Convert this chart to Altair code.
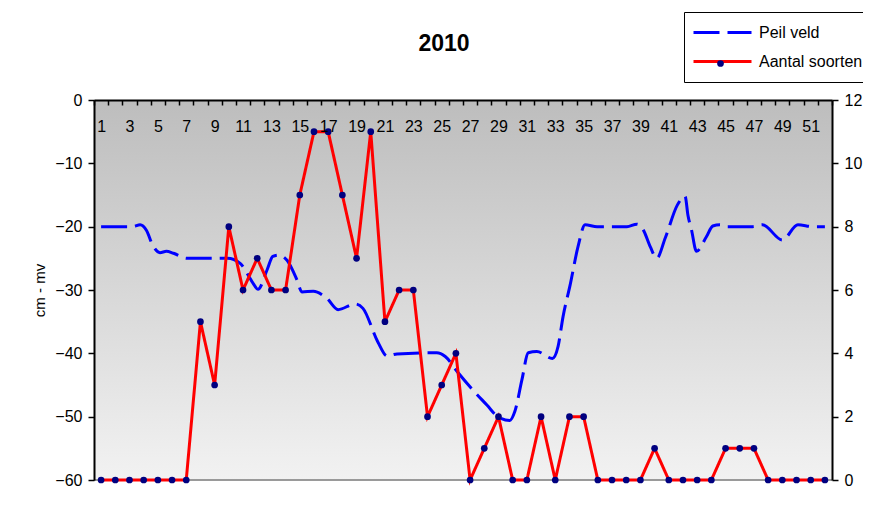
import altair as alt
import pandas as pd

FONT = "Liberation Sans"

# ---- data ----
weeks = list(range(1, 53))
aantal_soorten = [0, 0, 0, 0, 0, 0, 0, 5, 3, 8, 6, 7, 6, 6, 9, 11, 11, 9, 7, 11,
                  5, 6, 6, 2, 3, 4, 0, 1, 2, 0, 0, 2, 0, 2, 2, 0, 0, 0, 0, 1,
                  0, 0, 0, 0, 1, 1, 1, 0, 0, 0, 0, 0]

peil_x = [1.0, 3.25, 3.75, 4.2, 4.65, 5.15, 5.6, 6.1, 7.05, 9.9, 10.8, 11.7, 12.05,
          12.7, 13.1, 13.5, 14.1, 14.8, 15.15, 15.95, 16.9, 17.7, 18.9, 19.45,
          20.5, 21.15, 21.85, 24.65, 25.25, 26.1, 27.2, 28.2, 28.9, 29.8, 30.15,
          30.65, 31.1, 31.7, 32.8, 33.2, 33.55, 34.05, 34.6, 35.1, 35.95, 38.05,
          38.75, 39.2, 39.7, 40.15, 40.75, 41.6, 42.15, 42.35, 42.6, 42.95, 43.65,
          44.1, 44.6, 45.05, 46.9, 47.6, 49.0, 50.1, 51.15, 52.0]
peil_cm = [-20, -20, -19.7, -20.6, -23.0, -24.1, -23.9, -24.2, -25, -25, -25.8,
           -28.9, -29.9, -26.8, -24.7, -24.5, -25.3, -28.4, -30.3, -30.2, -31.3,
           -33.1, -32.2, -32.9, -38.2, -40.4, -40.1, -39.9, -40.5, -42.9, -45.8,
           -48.2, -49.9, -50.6, -49.2, -44.2, -39.9, -39.7, -40.8, -38.9, -34.2,
           -29.2, -23.2, -19.7, -20.0, -20.0, -19.6, -20.5, -23.2, -25.0, -21.8,
           -16.6, -15.2, -18.2, -20.5, -23.9, -21.6, -19.9, -19.7, -20.0, -20.0,
           -19.7, -22.1, -19.7, -20.0, -20.0]

series_names = ["Peil veld", "Aantal soorten"]
series_colors = ["#0000ff", "#ff0000"]
series_dashes = [[26, 8], [1, 0]]

left_ticks = [-60, -50, -40, -30, -20, -10, 0]
right_ticks = [0, 2, 4, 6, 8, 10, 12]
x_label_vals = list(range(1, 52, 2))
x_tick_vals = [i + 0.5 for i in range(0, 53)]

df_peil = pd.DataFrame({"x": peil_x, "cm": peil_cm, "series": series_names[0]})
df_soort = pd.DataFrame({"x": weeks, "n": aantal_soorten,
                         "series": series_names[1], "dot": series_names[1]})

# ---- scales & axes ----
xscale = alt.Scale(domain=[0.5, 52.5], nice=False, zero=False)
yl_scale = alt.Scale(domain=[-60, 0], nice=False, zero=False)
yr_scale = alt.Scale(domain=[0, 12], nice=False, zero=False)
color_scale = alt.Scale(domain=series_names, range=series_colors)
dash_scale = alt.Scale(domain=series_names, range=series_dashes)

x_axis = alt.Axis(
    orient="bottom", offset=-380, title=None, zindex=1,
    values=sorted(x_tick_vals + x_label_vals),
    labelExpr="datum.value % 1 == 0 ? toString(datum.value) : ''",
    tickOpacity=alt.condition("datum.value % 1 != 0", alt.value(1), alt.value(0)),
    tickSize=5, tickColor="black", tickWidth=1.5,
    domainColor="black", domainWidth=2,
    labelFont=FONT, labelFontSize=16, labelColor="black",
    labelPadding=13, labelOverlap=False, labelFlush=False, labelAngle=0,
    labelBound=False, grid=False,
)
yl_axis = alt.Axis(
    orient="left", values=left_ticks, title="cm - mv", zindex=1,
    titleFont=FONT, titleFontSize=15, titleFontWeight="normal", titleColor="black",
    titlePadding=7,
    tickSize=6, tickColor="black", tickWidth=1.5,
    domainColor="black", domainWidth=2,
    labelFont=FONT, labelFontSize=16, labelColor="black", labelPadding=6,
    grid=False,
)
yr_axis = alt.Axis(
    orient="right", values=right_ticks, title=None, zindex=1,
    tickSize=6, tickColor="black", tickWidth=1.5,
    domainColor="black", domainWidth=2,
    labelFont=FONT, labelFontSize=16, labelColor="black", labelPadding=6,
    grid=False,
)

main_legend = alt.Legend(
    title=None, orient="none", legendX=590, legendY=-88,
    symbolType="stroke", symbolSize=3364, symbolStrokeWidth=3,
    clipHeight=25, rowPadding=4, padding=8,
    labelFont=FONT, labelFontSize=16, labelColor="black", labelOffset=6,
    fillColor="white", strokeColor="black",
)
dot_legend = alt.Legend(
    title=None, orient="none", legendX=622, legendY=-41,
    symbolType="circle", symbolSize=45, symbolFillColor="#000080",
    symbolStrokeColor="#000080", labelExpr="''", labelFontSize=6, padding=0,
)

# ---- left (cm - mv) layers ----
background = alt.Chart(df_peil.head(1)).mark_rect(
    fill=alt.LinearGradient(
        gradient="linear", x1=0, y1=0, x2=0, y2=1,
        stops=[alt.GradientStop(color="#bdbdbd", offset=0),
               alt.GradientStop(color="#f2f2f2", offset=1)],
    )
).encode(
    x=alt.XDatum(0.5, scale=xscale, axis=x_axis),
    x2=alt.X2Datum(52.5),
    y=alt.YDatum(0, scale=yl_scale, axis=yl_axis),
    y2=alt.Y2Datum(-60),
)

bottom_line = alt.Chart(df_peil.head(1)).mark_rule(color="#9a9a9a", strokeWidth=2).encode(
    y=alt.YDatum(-60, scale=yl_scale, axis=yl_axis)
)

peil_line = alt.Chart(df_peil).mark_line(strokeWidth=3, interpolate="monotone").encode(
    x=alt.X("x:Q", scale=xscale, axis=x_axis),
    y=alt.Y("cm:Q", scale=yl_scale, axis=yl_axis),
    color=alt.Color("series:N", scale=color_scale, legend=main_legend),
    strokeDash=alt.StrokeDash("series:N", scale=dash_scale, legend=main_legend),
)

left = alt.layer(background, bottom_line, peil_line)

# ---- right (Aantal soorten) layers ----
soort_line = alt.Chart(df_soort).mark_line(strokeWidth=3).encode(
    x=alt.X("x:Q", scale=xscale, axis=x_axis),
    y=alt.Y("n:Q", scale=yr_scale, axis=yr_axis),
    color=alt.Color("series:N", scale=color_scale, legend=main_legend),
    strokeDash=alt.StrokeDash("series:N", scale=dash_scale, legend=main_legend),
)
soort_pts = alt.Chart(df_soort).mark_point(filled=True, color="#000080", size=45, opacity=1).encode(
    x=alt.X("x:Q", scale=xscale, axis=x_axis),
    y=alt.Y("n:Q", scale=yr_scale, axis=yr_axis),
    shape=alt.Shape("dot:N", legend=dot_legend),
)
right = alt.layer(soort_line, soort_pts)

chart = alt.layer(left, right).resolve_scale(y="independent").properties(
    width=738, height=380,
    autosize=alt.AutoSizeParams(type="none"),
    padding={"left": 86, "top": 92, "right": 31, "bottom": 8},
    background="white",
    title=alt.TitleParams("2010", font=FONT, fontSize=23, fontWeight="bold",
                          color="black", anchor="middle", dx=-19, dy=62, offset=0,
                          baseline="alphabetic"),
).configure_view(stroke=None)

chart.save("out.html", embed_options={"renderer": "svg", "actions": False})
